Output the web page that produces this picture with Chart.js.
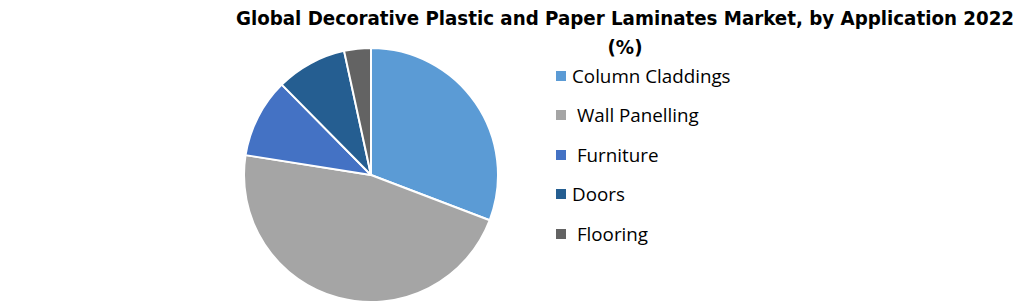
<!DOCTYPE html>
<html>
<head>
<meta charset="utf-8">
<script src="https://cdn.jsdelivr.net/npm/chart.js@4"></script>
<style>
  body { margin: 0; background: #fff; }
  #wrap { position: relative; width: 1020px; height: 303px; overflow: hidden; }
  #title { position: absolute; left: 225px; width: 800px; top: 4px; text-align: center; white-space: nowrap;
    font-family: "DejaVu Sans Condensed", sans-serif; font-weight: bold;
    font-size: 20.3px; line-height: 29px; color: #000; }
  #pie { position: absolute; left: 243px; top: 47px; width: 256px; height: 256px; }
  #legend { position: absolute; left: 556px; top: 56px; font-family: "Open Sans", sans-serif; font-size: 18.8px; color: #000; }
  .item { height: 39.5px; display: flex; align-items: center; white-space: pre; }
  .box { width: 10px; height: 10px; margin-right: 6px; }
</style>
</head>
<body>
<div id="wrap">
  <div id="title">Global Decorative Plastic and Paper Laminates Market, by Application 2022<br>(%)</div>
  <div id="pie"><canvas id="chart"></canvas></div>
  <div id="legend"></div>
</div>
<script>
const categories = ['Column Claddings', ' Wall Panelling', ' Furniture', 'Doors', ' Flooring'];
const shares = [30.8, 46.7, 10.1, 9.0, 3.4];
const colors = ['#5B9BD5', '#A5A5A5', '#4472C4', '#255E91', '#636363'];

const legend = document.getElementById('legend');
categories.forEach((name, i) => {
  const row = document.createElement('div');
  row.className = 'item';
  row.innerHTML = `<span class="box" style="background:${colors[i]}"></span><span>${name}</span>`;
  legend.appendChild(row);
});

new Chart(document.getElementById('chart'), {
  type: 'pie',
  data: {
    labels: categories,
    datasets: [{
      data: shares,
      backgroundColor: colors,
      borderColor: '#fff',
      borderWidth: 2
    }]
  },
  options: {
    responsive: true,
    maintainAspectRatio: false,
    animation: false,
    plugins: {
      legend: { display: false },
      tooltip: { enabled: false }
    }
  }
});
</script>
</body>
</html>
